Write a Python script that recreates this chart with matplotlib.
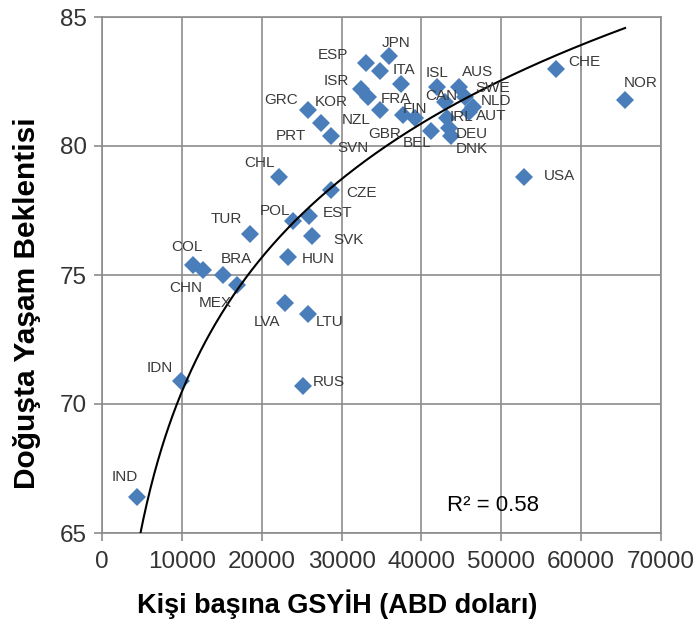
import numpy as np
import matplotlib
matplotlib.use("Agg")
import matplotlib.pyplot as plt

# ---- data ----
countries = ["IND", "IDN", "RUS", "LTU", "LVA", "MEX", "BRA", "CHN", "COL", "HUN",
             "TUR", "SVK", "POL", "EST", "CZE", "CHL", "USA", "NOR", "CHE", "JPN",
             "ESP", "ITA", "ISR", "KOR", "FRA", "NZL", "GRC", "PRT", "SVN", "GBR",
             "FIN", "BEL", "ISL", "CAN", "AUS", "SWE", "NLD", "AUT", "IRL", "DEU", "DNK"]
gdp = [4400, 9850, 25150, 25800, 22950, 16850, 15150, 12650, 11400, 23300,
       18500, 26350, 23900, 25900, 28650, 22150, 52900, 65500, 56850, 36000,
       33100, 34850, 32450, 33300, 37450, 34750, 25800, 27450, 28700, 37750,
       39250, 41250, 42000, 43000, 44750, 45500, 46500, 46000, 43250, 43500, 43750]
life_exp = [66.4, 70.9, 70.7, 73.5, 73.9, 74.6, 75.0, 75.2, 75.4, 75.7,
            76.6, 76.5, 77.1, 77.3, 78.3, 78.8, 78.8, 81.8, 83.0, 83.5,
            83.2, 82.9, 82.2, 81.9, 82.4, 81.4, 81.4, 80.9, 80.4, 81.2,
            81.1, 80.6, 82.3, 81.7, 82.3, 81.9, 81.5, 81.3, 81.1, 80.7, 80.4]

# logarithmic trendline y = a*ln(x) + b
trend_a = 7.5
trend_b = 1.4
r2_text = "R² = 0.58"

# label offsets in pixels (dx, dy) from each marker
label_offsets = [(-12, 20), (-21, 13), (26, 4), (22, -8), (-18, -19), (-21, -18),
                 (13, 16), (-17, -18), (-6, 18), (30, -2), (-23, 15), (36, -4),
                 (-18, 10), (29, 3), (31, -3), (-19, 14), (35, 1), (16, 17),
                 (28, 7), (7, 13), (-33, 8), (24, 1), (-25, 8), (-37, -5),
                 (-5, -15), (-23, -10), (-27, 10), (-30, -13), (22, -12), (-19, -19),
                 (0, 9), (-14, -12), (0, 14), (-4, 6), (18, 15), (27, 9),
                 (23, 6), (22, -4), (14, 1), (22, -6), (20, -13)]

xs = np.linspace(min(gdp), max(gdp), 400)

# =========================
# PLOT
# =========================
plt.rcParams["font.family"] = ["Liberation Sans", "DejaVu Sans"]
grid_col = "#8c8c8c"

fig = plt.figure(figsize=(6.96, 6.24), dpi=100)
ax = fig.add_axes([102 / 696, 1 - 533 / 624, 559 / 696, 516 / 624])

ax.plot(gdp, life_exp, linestyle="none", marker="D", markersize=9.5,
        color="#4a7ebb", markeredgewidth=0, zorder=3)
ax.plot(xs, trend_a * np.log(xs) + trend_b, color="black", lw=1.5, zorder=4)

for name, x, y, off in zip(countries, gdp, life_exp, label_offsets):
    ax.annotate(name, (x, y), xytext=off, textcoords="offset pixels",
                ha="center", va="center", fontsize=11, color="#3a3a3a", zorder=5)

ax.text(49000, 66.05, r2_text, fontsize=16, color="black", ha="center", va="center")

ax.set_xlim(0, 70000)
ax.set_ylim(65, 85)
ax.set_xticks(range(0, 70001, 10000))
ax.set_yticks(range(65, 86, 5))
ax.grid(True, color=grid_col, lw=1.2)
ax.set_axisbelow(True)
for s in ax.spines.values():
    s.set_color(grid_col)
    s.set_linewidth(1.2)
ax.tick_params(axis="both", colors=grid_col, labelcolor="#333333", labelsize=17.5,
               length=6, width=1.2)
ax.tick_params(axis="x", pad=7)
ax.tick_params(axis="y", pad=5)

ax.set_xlabel("Kişi başına GSYİH (ABD doları)", fontsize=19.5, fontweight="bold",
              va="center")
ax.set_ylabel("Doğuşta Yaşam Beklentisi", fontsize=21.5, fontweight="bold",
              va="center")
ax.xaxis.set_label_coords((337 - 102) / 559, -(604 - 533) / 516)
ax.yaxis.set_label_coords(-(102 - 27) / 559, (533 - 303) / 516)

fig.savefig("out.png", dpi=100)
